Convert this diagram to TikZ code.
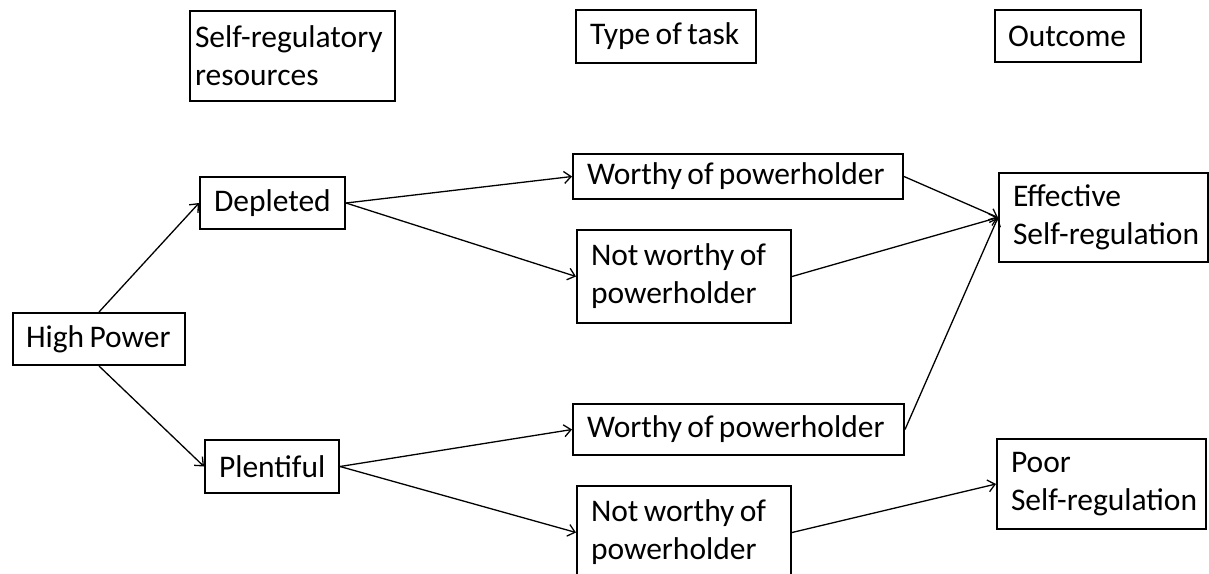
\documentclass[tikz,border=0pt]{standalone}
\usepackage{fontspec}
\setmainfont{Carlito}
\usetikzlibrary{arrows.meta}
\tikzset{
  box/.style={draw=black, line width=2pt, anchor=north west, inner xsep=12pt, inner ysep=0pt,
    align=left, font=\fontsize{31.5}{38}\selectfont},
  conn/.style={line width=1.3pt, -{Straight Barb[length=7pt,width=12pt,line width=1.3pt]}}
}
\newcommand{\bx}[7][12]{\node[box, inner xsep=#1pt, text width={#5pt-2*#1pt}, minimum height=#6pt] (#2) at (#3,#4) {\spaceskip=0.17em\relax #7};}
\begin{document}
\begin{tikzpicture}[x=1pt,y=-1pt]
\useasboundingbox (0,0) rectangle (1209,573);
% headers
\bx[5]{selfreg}{189}{10}{205}{90}{\mbox{Self-regulatory}\\\mbox{resources}}
\bx[14]{type}{575}{9}{180}{53}{\mbox{Type of task}}
\bx[13]{outcome}{994}{9}{146}{52}{\mbox{Outcome}}
% left
\bx[13]{high}{12}{312}{172}{52}{\mbox{High Power}}
\bx[14]{depl}{199}{176}{145}{52}{\mbox{Depleted}}
\bx[14]{plent}{204}{439}{134}{53}{\mbox{Plentiful}}
% tasks
\bx[14]{w1}{572}{153}{330}{45}{\mbox{Worthy of powerholder}}
\bx[14]{n1}{576}{229}{214}{93}{\mbox{Not worthy of}\\\mbox{powerholder}}
\bx[14]{w2}{572}{403}{331}{51}{\mbox{Worthy of powerholder}}
\bx[14]{n2}{576}{485}{214}{93}{\mbox{Not worthy of}\\\mbox{powerholder}}
% outcomes
\bx[14]{eff}{998}{172}{209}{89}{\mbox{Effective}\\\mbox{Self-regulation}}
\bx[14]{poor}{996}{438}{209}{90}{\mbox{Poor}\\\mbox{Self-regulation}}
% connectors
\draw[conn] (high.north) -- (depl.west);
\draw[conn] (high.south) -- (plent.west);
\draw[conn] (depl.east) -- (w1.west);
\draw[conn] (depl.east) -- (n1.west);
\draw[conn] (plent.east) -- (w2.west);
\draw[conn] (plent.east) -- (n2.west);
\draw[conn] (w1.east) -- (eff.west);
\draw[conn] (n1.east) -- (eff.west);
\draw[conn] (w2.east) -- (eff.west);
\draw[conn] (n2.east) -- (poor.west);
\end{tikzpicture}
\end{document}
